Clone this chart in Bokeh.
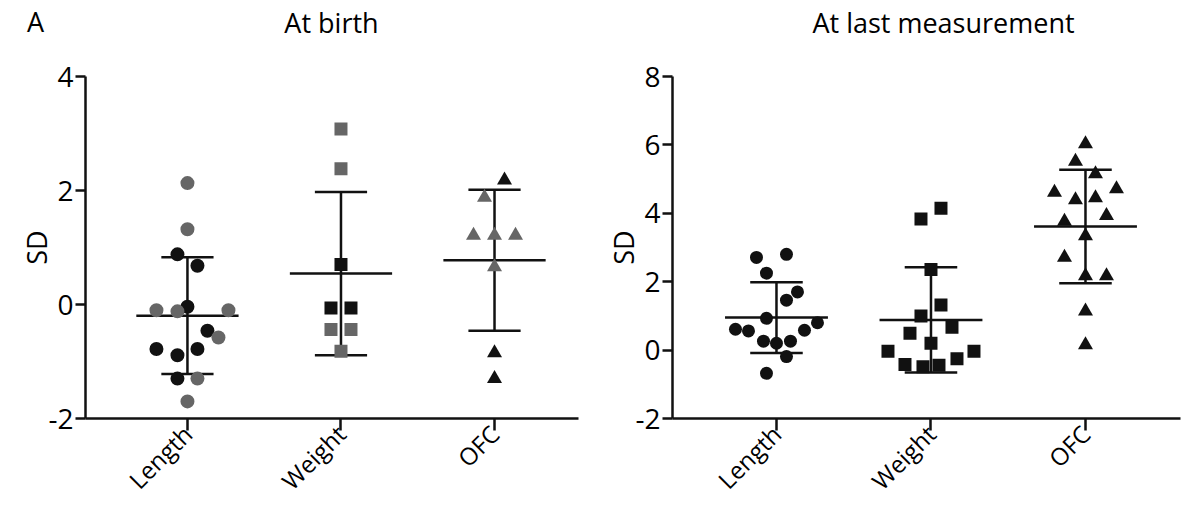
import math
import numpy as np
from bokeh.plotting import figure
from bokeh.layouts import row
from bokeh.models import Range1d, FixedTicker, Label
from bokeh.embed import file_html
from bokeh.resources import INLINE

# ---------------- data (SD scores) ----------------
categories = ["Length", "Weight", "OFC"]

# At birth: two subgroups (grey / black)
birth_length_grey = [2.13, 1.32, -0.10, -0.12, -0.10, -0.58, -1.30, -1.70]
birth_length_black = [0.88, 0.68, -0.04, -0.46, -0.78, -0.78, -0.89, -1.30]
birth_weight_grey = [3.08, 2.38, -0.44, -0.44, -0.82]
birth_weight_black = [0.70, -0.06, -0.06]
birth_ofc_grey = [1.88, 1.21, 1.21, 1.21, 0.66]
birth_ofc_black = [2.18, -0.85, -1.30]

# At last measurement
last_length = [2.71, 2.80, 2.25, 1.70, 1.46, 0.93, 0.61, 0.56, 0.58, 0.80, 0.26, 0.20, 0.26, -0.19, -0.68]
last_weight = [3.83, 4.15, 2.36, 1.32, 1.00, 0.67, 0.49, 0.20, -0.03, -0.03, -0.25, -0.42, -0.49, -0.44]
last_ofc = [6.03, 5.52, 5.15, 4.61, 4.71, 4.39, 4.45, 3.76, 3.93, 3.34, 2.71, 2.17, 2.17, 1.14, 0.15]

yticks_birth = [-2, 0, 2, 4]
yticks_last = [-2, 0, 2, 4, 6, 8]
titles = ["At birth", "At last measurement"]
panel_letter = "A"
y_label = "SD"

# ---------------- layout: swarm offsets in pixels ----------------
birth_length_grey_dx = [0, 0, -31, -10, 41, 31, 10, 0]
birth_length_black_dx = [-10, 10, 0, 20, -31, 10, -10, -10]
birth_weight_grey_dx = [0, 0, -10, 10, 0]
birth_weight_black_dx = [0, -10, 10]
birth_ofc_grey_dx = [-10, -21, 0, 21, 0]
birth_ofc_black_dx = [10, 0, 0]
last_length_dx = [-20, 10, -10, 21, 10, -10, -41, -28, 28, 41, -13, 0, 14, 10, -10]
last_weight_dx = [-10, 10, 0, 10, -10, 21, -21, 0, -43, 43, 26, -26, -8, 8]
last_ofc_dx = [0, -10, 10, -31, 31, -10, 10, -21, 21, 0, -21, 0, 21, 0, 0]

FONT = "Open Sans"
GREY = "#666666"
BLACK = "#111111"
H = 511
TOP = 76
BOTTOM = 93
TITLE_Y = TOP - 22      # title centre, measured up from the frame top
SLOT = 36               # height of one text slot in the "above" panel


def make_panel(width, bl, br, x0, x1, y0, y1, yticks):
    p = figure(width=width, height=H, x_range=Range1d(x0, x1), y_range=Range1d(y0, y1),
               output_backend="svg", toolbar_location=None, title=None,
               min_border_left=bl, min_border_right=br, min_border_top=TOP, min_border_bottom=BOTTOM)
    p.outline_line_color = None
    p.xgrid.visible = False
    p.ygrid.visible = False
    p.background_fill_color = None
    p.border_fill_color = "white"
    for ax in (p.xaxis[0], p.yaxis[0]):
        ax.axis_line_width = 2.5
        ax.axis_line_color = BLACK
        ax.major_tick_line_width = 2.5
        ax.major_tick_line_color = BLACK
        ax.major_tick_in = 0
        ax.minor_tick_line_color = None
        ax.major_label_text_font = FONT
        ax.major_label_text_color = "black"
    p.xaxis.ticker = FixedTicker(ticks=list(range(len(categories))))
    p.xaxis.major_label_overrides = {i: c for i, c in enumerate(categories)}
    p.xaxis.major_label_orientation = math.pi / 4
    p.xaxis.major_label_text_font_size = "24px"
    p.xaxis.major_tick_out = 12
    p.xaxis.major_label_standoff = -1
    p.yaxis.ticker = FixedTicker(ticks=yticks)
    p.yaxis.major_label_overrides = {t: str(t) for t in yticks}
    p.yaxis.major_label_text_font_size = "28px"
    p.yaxis.major_tick_out = 10
    p.yaxis.major_label_standoff = 2
    p.yaxis.axis_label = y_label
    p.yaxis.axis_label_text_font = FONT
    p.yaxis.axis_label_text_font_size = "27px"
    p.yaxis.axis_label_text_font_style = "normal"
    p.yaxis.axis_label_text_color = "black"
    p.yaxis.axis_label_standoff = -10
    return p


def top_text(p, text, x, y):
    p.add_layout(Label(x=x, y=y, x_units="screen", y_units="screen", text=text, text_font=FONT,
                       text_font_size="27px", text_align="center", text_baseline="middle",
                       text_color="black"), "above")


def swarm_x(i, dx, ppu):
    return [i + d / ppu for d in dx]


def add_stats(p, i, values, half=0.333, cap=0.17):
    v = np.array(values, dtype=float)
    m = v.mean()
    s = v.std(ddof=1)
    p.segment(x0=[i - half, i - cap, i - cap, i], y0=[m, m + s, m - s, m - s],
              x1=[i + half, i + cap, i + cap, i], y1=[m, m + s, m - s, m + s],
              line_color=BLACK, line_width=2.5)


# ---------------- left panel: at birth ----------------
L_W, L_BL, L_BR = 590, 85, 12
lx0, lx1 = -0.664, 2.547
p1 = make_panel(L_W, L_BL, L_BR, lx0, lx1, -2, 4, yticks_birth)
ppu1 = (L_W - L_BL - L_BR) / (lx1 - lx0)

birth_groups = [
    (0, birth_length_grey, birth_length_grey_dx, birth_length_black, birth_length_black_dx, "circle", 14),
    (1, birth_weight_grey, birth_weight_grey_dx, birth_weight_black, birth_weight_black_dx, "square", 13),
    (2, birth_ofc_grey, birth_ofc_grey_dx, birth_ofc_black, birth_ofc_black_dx, "triangle", 15),
]
for i, g, gdx, b, bdx, mk, sz in birth_groups:
    add_stats(p1, i, g + b)
for i, g, gdx, b, bdx, mk, sz in birth_groups:
    p1.scatter(x=swarm_x(i, bdx, ppu1), y=b, marker=mk, size=sz, fill_color=BLACK, line_color=None)
    p1.scatter(x=swarm_x(i, gdx, ppu1), y=g, marker=mk, size=sz, fill_color=GREY, line_color=None)

top_text(p1, titles[0], 331 - 85, TITLE_Y)
top_text(p1, panel_letter, 35 - 85, TITLE_Y - SLOT)

# ---------------- right panel: at last measurement ----------------
R_W, R_BL, R_BR = 596, 82, 6
rx0, rx1 = -0.673, 2.615
p2 = make_panel(R_W, R_BL, R_BR, rx0, rx1, -2, 8, yticks_last)
ppu2 = (R_W - R_BL - R_BR) / (rx1 - rx0)

last_groups = [
    (0, last_length, last_length_dx, "circle", 13),
    (1, last_weight, last_weight_dx, "square", 13),
    (2, last_ofc, last_ofc_dx, "triangle", 15),
]
for i, v, dx, mk, sz in last_groups:
    add_stats(p2, i, v)
for i, v, dx, mk, sz in last_groups:
    p2.scatter(x=swarm_x(i, dx, ppu2), y=v, marker=mk, size=sz, fill_color=BLACK, line_color=None)

top_text(p2, titles[1], 943 - 672, TITLE_Y)

layout = row(p1, p2)
open("out.html", "w").write(file_html(layout, INLINE))
